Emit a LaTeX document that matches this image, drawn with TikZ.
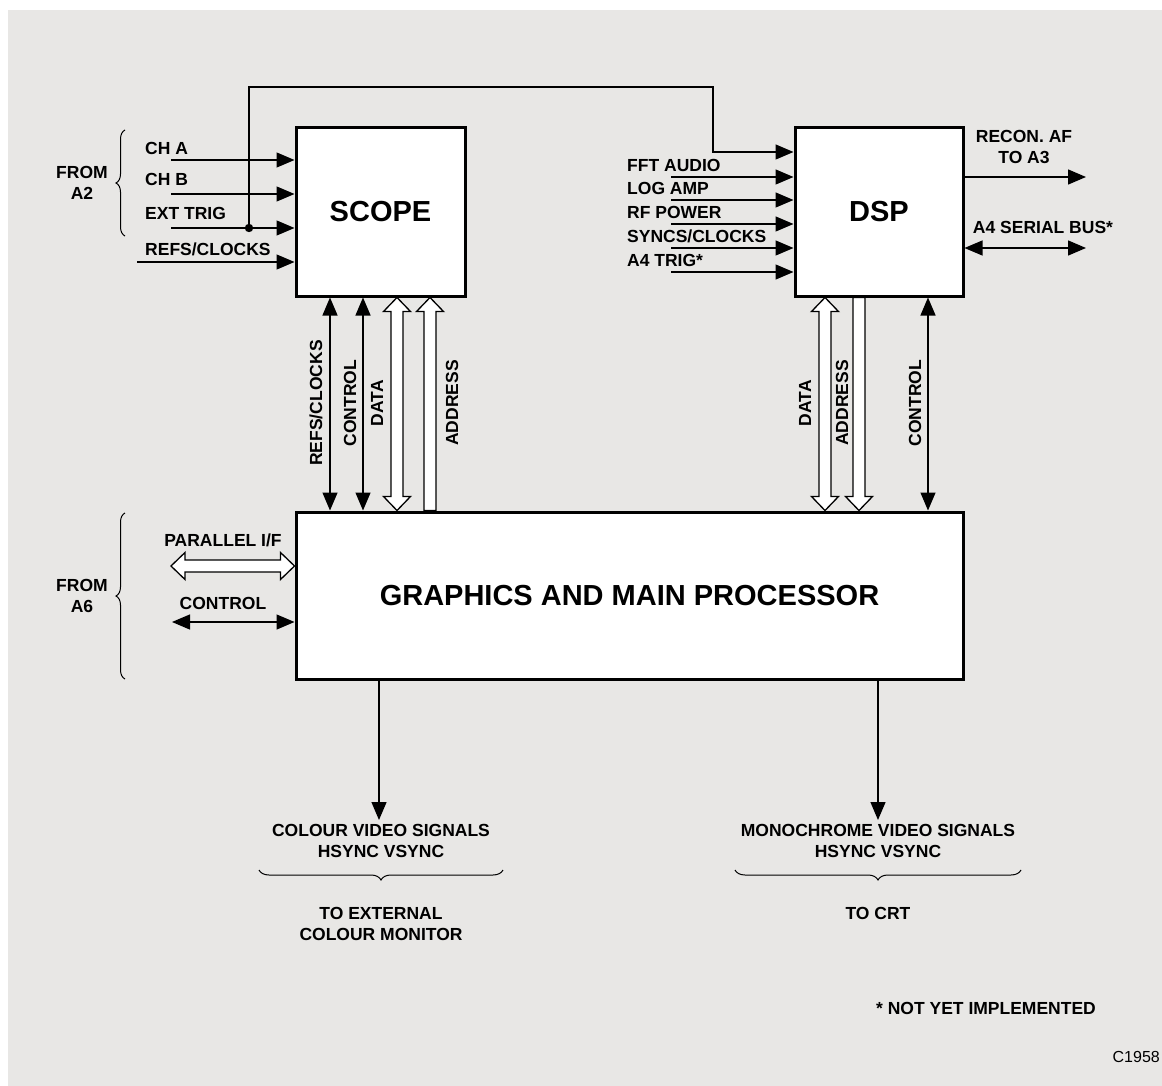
\documentclass[tikz,border=0pt]{standalone}
\usepackage{fontspec}
\setmainfont{Liberation Sans}
\usetikzlibrary{arrows.meta,decorations.pathreplacing,calc}
\definecolor{bg}{HTML}{E8E7E5}
\begin{document}
\begin{tikzpicture}[x=1pt,y=-1pt,
  wire/.style={line width=1.3pt},
  arr/.style={wire,-{Triangle[length=18pt,width=15pt]}},
  darr/.style={wire,{Triangle[length=18pt,width=15pt]}-{Triangle[length=18pt,width=15pt]}},
  blk/.style={draw,line width=3pt,fill=white,inner sep=0},
  lab/.style={font=\fontsize{17.5}{21}\selectfont\bfseries,inner sep=0,align=center},
  vlab/.style={lab,rotate=90},
  big/.style={font=\fontsize{29}{32}\selectfont\bfseries},
  bus/.style={draw,line width=1.3pt,fill=white,line join=miter},
  brc/.style={line width=1pt,decorate,decoration={brace,amplitude=9pt}}]
\useasboundingbox (0,0) rectangle (1162,1086);
\fill[white] (0,0) rectangle (1162,1086);
\fill[bg] (8,10) rectangle (1162,1086);

% blocks
\node[blk,big,minimum width=169pt,minimum height=168pt] (scope) at (380.5,212) {SCOPE};
\node[blk,big,minimum width=168pt,minimum height=168pt] (dsp) at (879,212) {DSP};
\node[blk,big,minimum width=667pt,minimum height=167pt] (main) at (629.5,595.5) {GRAPHICS AND MAIN PROCESSOR};

% scope inputs
\coordinate (cha) at (171,160);
\coordinate (chb) at (171,194);
\coordinate (ext) at (171,228);
\coordinate (rfc) at (137,262);
\draw[arr] (cha) -- (cha -| scope.west);
\draw[arr] (chb) -- (chb -| scope.west);
\draw[arr] (ext) -- (ext -| scope.west);
\draw[arr] (rfc) -- (rfc -| scope.west);
\node[lab,anchor=west] (lcha) at (145,148) {CH A};
\node[lab,anchor=west] (lchb) at (145,179) {CH B};
\node[lab,anchor=west] (lext) at (145,213) {EXT TRIG};
\node[lab,anchor=west] (lrfc) at (145,249) {REFS/CLOCKS};
\node[lab] (fa2) at (82,183) {FROM\\A2};
\draw[brc] (125,236) -- (125,130);

% trigger wire to DSP
\coordinate (dot) at (249,228);
\fill (dot) circle (4.2pt);
\coordinate (t1) at (249,87);
\coordinate (t2) at (713,87);
\coordinate (t3) at (713,152);
\draw[arr] (dot) -- (t1) -- (t2) -- (t3) -- (t3 -| dsp.west);

% dsp inputs
\coordinate (ffa) at (671,177);
\coordinate (lga) at (671,200);
\coordinate (rfp) at (671,224);
\coordinate (syc) at (671,248);
\coordinate (a4t) at (671,272);
\draw[arr] (ffa) -- (ffa -| dsp.west);
\draw[arr] (lga) -- (lga -| dsp.west);
\draw[arr] (rfp) -- (rfp -| dsp.west);
\draw[arr] (syc) -- (syc -| dsp.west);
\draw[arr] (a4t) -- (a4t -| dsp.west);
\node[lab,anchor=west] (lffa) at (627,165) {FFT AUDIO};
\node[lab,anchor=west] (llga) at (627,188.5) {LOG AMP};
\node[lab,anchor=west] (lrfp) at (627,212) {RF POWER};
\node[lab,anchor=west] (lsyc) at (627,236) {SYNCS/CLOCKS};
\node[lab,anchor=west] (la4t) at (627,260) {A4 TRIG*};

% dsp outputs
\coordinate (raf) at (1086,177);
\coordinate (sbus) at (1086,248);
\draw[arr] (raf -| dsp.east) -- (raf);
\draw[darr] (sbus -| dsp.east) -- (sbus);
\node[lab] (lraf) at (1024,147) {RECON. AF\\TO A3};
\node[lab] (lsbus) at (1043,227) {A4 SERIAL BUS*};

% scope <-> main
\coordinate (xr) at (330,0);
\coordinate (xc) at (363,0);
\draw[darr] (scope.south -| xr) -- (main.north -| xr);
\draw[darr] (scope.south -| xc) -- (main.north -| xc);
\draw[bus] (397,297.5) -- (410.5,311.5) -- (403,311.5) -- (403,496.5) -- (410.5,496.5) -- (397,510.5) -- (383.5,496.5) -- (391,496.5) -- (391,311.5) -- (383.5,311.5) -- cycle;
\draw[bus] (430,297.5) -- (443.5,311.5) -- (436,311.5) -- (436,510.5) -- (424,510.5) -- (424,311.5) -- (416.5,311.5) -- cycle;
\node[vlab] (lsr) at (316,403) {REFS/CLOCKS};
\node[vlab] (lsc) at (350,403) {CONTROL};
\node[vlab] (lsd) at (377,403) {DATA};
\node[vlab] (lsa) at (452,403) {ADDRESS};

% dsp <-> main
\coordinate (xdc) at (928,0);
\draw[darr] (dsp.south -| xdc) -- (main.north -| xdc);
\draw[bus] (825,297.5) -- (838.5,311.5) -- (831,311.5) -- (831,496.5) -- (838.5,496.5) -- (825,510.5) -- (811.5,496.5) -- (819,496.5) -- (819,311.5) -- (811.5,311.5) -- cycle;
\draw[bus] (859,510.5) -- (872.5,496.5) -- (865,496.5) -- (865,297.5) -- (853,297.5) -- (853,496.5) -- (845.5,496.5) -- cycle;
\node[vlab] (ldd) at (805,403) {DATA};
\node[vlab] (lda) at (842,403) {ADDRESS};
\node[vlab] (ldc) at (915,403) {CONTROL};

% main left side
\draw[bus] (171,566) -- (185,552.5) -- (185,560) -- (280.5,560) -- (280.5,552.5) -- (294.5,566) -- (280.5,579.5) -- (280.5,572) -- (185,572) -- (185,579.5) -- cycle;
\coordinate (mc) at (172,622);
\draw[darr] (mc) -- (mc -| main.west);
\node[lab] (lpif) at (223,540) {PARALLEL I/F};
\node[lab] (lmc) at (223,603) {CONTROL};
\draw[brc] (125,679) -- (125,513);
\node[lab] (fa6) at (82,596) {FROM\\A6};

% main outputs
\coordinate (cv) at (379,820);
\coordinate (mv) at (878,820);
\draw[arr] (main.south -| cv) -- (cv);
\draw[arr] (main.south -| mv) -- (mv);
\node[lab] (lcv) at (381,840.5) {COLOUR VIDEO SIGNALS\\HSYNC VSYNC};
\node[lab] (lmv) at (878,840.5) {MONOCHROME VIDEO SIGNALS\\HSYNC VSYNC};
\draw[brc,decoration={mirror,amplitude=10pt}] (259,870) -- (503,870);
\draw[brc,decoration={mirror,amplitude=10pt}] (735,870) -- (1021,870);
\node[lab] (lcm) at (381,924) {TO EXTERNAL\\COLOUR MONITOR};
\node[lab] (lcrt) at (878,913) {TO CRT};

\node[lab] (note) at (986,1008) {* NOT YET IMPLEMENTED};
\node[font=\fontsize{16}{18}\selectfont,inner sep=0,anchor=east] (ref) at (1160,1057) {C1958};
\end{tikzpicture}
\end{document}
